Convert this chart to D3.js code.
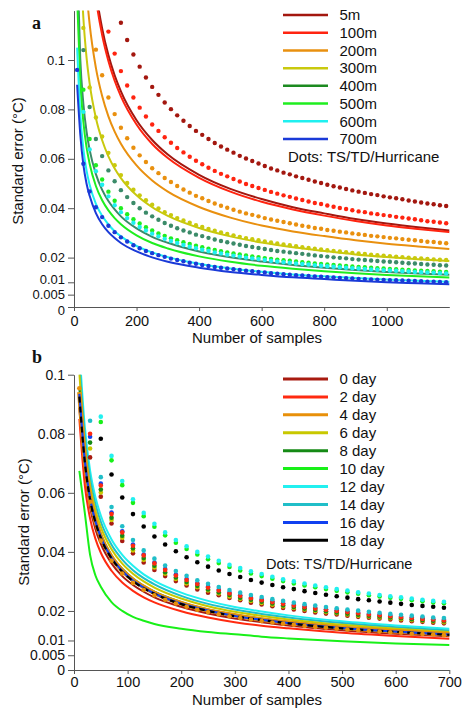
<!DOCTYPE html>
<html>
<head>
<meta charset="utf-8">
<script src="https://cdn.jsdelivr.net/npm/d3@7"></script>
<style>
  html, body { margin: 0; padding: 0; background: #fff; }
  svg { display: block; font-family: "Liberation Sans", Arial, Helvetica, sans-serif; }
</style>
</head>
<body>
<div id="chart"></div>
<script>
// ---------------- DATA: panel a ----------------
const depthLabels = ["5m", "100m", "200m", "300m", "400m", "500m", "600m", "700m"];
const yTicks = [0, 0.005, 0.01, 0.02, 0.04, 0.06, 0.08, 0.1];
const xTicksA = [0, 200, 400, 600, 800, 1000];
const xTicksB = [0, 100, 200, 300, 400, 500, 600, 700];

const nLineA = [10,20,30,40,50,70,90,110,130,150,200,250,300,400,500,600,700,800,900,1000,1100,1200];
const line5m   = [null,null,null,null,0.1513,0.1279,0.1128,0.1020,0.0938,0.0873,0.0756,0.0676,0.0617,0.0535,0.0478,0.0437,0.0404,0.0379,0.0356,0.0338,0.0323,0.0310];
const line100m = [null,null,null,null,0.1478,0.1249,0.1101,0.0996,0.0916,0.0853,0.0739,0.0660,0.0603,0.0523,0.0467,0.0426,0.0395,0.0370,0.0348,0.0330,0.0316,0.0303];
const line200m = [null,null,0.148,0.1281,0.1145,0.0968,0.0854,0.0772,0.0710,0.0661,0.0573,0.0512,0.0467,0.0405,0.0362,0.0330,0.0306,0.0287,0.0270,0.0256,0.0245,0.0235];
const line300m = [null,0.1431,0.1169,0.1012,0.0905,0.0765,0.0675,0.0610,0.0561,0.0522,0.0452,0.0404,0.0369,0.0320,0.0286,0.0261,0.0242,0.0227,0.0213,0.0202,0.0193,0.0186];
const line400m = [0.142,0.1006,0.0822,0.0711,0.0636,0.0538,0.0474,0.0429,0.0395,0.0367,0.0318,0.0284,0.0260,0.0225,0.0201,0.0184,0.0170,0.0159,0.0150,0.0142,0.0136,0.0131];
const line500m = [0.125,0.0917,0.0749,0.0648,0.0580,0.0490,0.0432,0.0391,0.0360,0.0335,0.0290,0.0259,0.0237,0.0205,0.0183,0.0167,0.0155,0.0145,0.0137,0.0130,0.0124,0.0119];
const line600m = [0.105,0.0783,0.0639,0.0553,0.0495,0.0418,0.0369,0.0334,0.0307,0.0286,0.0247,0.0221,0.0202,0.0175,0.0156,0.0143,0.0132,0.0124,0.0117,0.0111,0.0106,0.0102];
const line700m = [0.0900,0.0700,0.0575,0.0500,0.0450,0.0380,0.0335,0.0303,0.0279,0.0259,0.0225,0.0201,0.0183,0.0159,0.0142,0.0130,0.0120,0.0113,0.0106,0.0100,0.0096,0.0092];

const nDotsA = [10,30,50,70,90,110,130,150,170,190,210,230,250,270,290,310,330,350,370,390,410,430,450,470,490,510,530,550,570,590,610,630,650,670,690,710,730,750,770,790,810,830,850,870,890,910,930,950,970,990,1010,1030,1050,1070,1090,1110,1130,1150,1170,1190];
const dots5m = [null,null,null,null,null,null,null,
  0.1151,0.1081,0.1022,0.0973,0.0929,0.0891,0.0859,0.0828,0.0801,0.0776,
  0.0754,0.0733,0.0713,0.0697,0.0680,0.0664,0.0650,0.0637,0.0625,0.0612,
  0.0601,0.0591,0.0581,0.0571,0.0561,0.0553,0.0544,0.0537,0.0529,0.0522,
  0.0515,0.0508,0.0502,0.0495,0.0489,0.0484,0.0478,0.0472,0.0467,0.0462,
  0.0457,0.0453,0.0448,0.0444,0.0440,0.0436,0.0431,0.0427,0.0423,0.0419,
  0.0416,0.0412,0.0409];
const dots100m = [null,null,null,null,null,
  0.1115,0.1026,0.0955,0.0897,0.0848,0.0807,0.0771,0.0739,0.0713,0.0687,
  0.0665,0.0644,0.0626,0.0608,0.0592,0.0578,0.0564,0.0551,0.0539,0.0529,
  0.0518,0.0508,0.0498,0.0490,0.0482,0.0474,0.0466,0.0459,0.0452,0.0446,
  0.0439,0.0433,0.0427,0.0421,0.0417,0.0411,0.0406,0.0401,0.0397,0.0392,
  0.0387,0.0384,0.0379,0.0376,0.0372,0.0369,0.0365,0.0362,0.0358,0.0355,
  0.0351,0.0347,0.0345,0.0342,0.0339];
const dots200m = [null,null,null,
  0.1042,0.0938,0.0848,0.0781,0.0726,0.0683,0.0645,0.0614,0.0587,0.0562,
  0.0542,0.0522,0.0506,0.0490,0.0476,0.0463,0.0450,0.0440,0.0429,0.0419,
  0.0410,0.0402,0.0394,0.0386,0.0379,0.0373,0.0367,0.0360,0.0354,0.0349,
  0.0344,0.0339,0.0334,0.0329,0.0325,0.0320,0.0317,0.0312,0.0309,0.0305,
  0.0302,0.0298,0.0295,0.0292,0.0288,0.0286,0.0283,0.0280,0.0278,0.0275,
  0.0272,0.0270,0.0267,0.0264,0.0263,0.0260,0.0258];
const dots300m = [null,
  0.1130,0.0889,0.0767,0.0690,0.0624,0.0574,0.0534,0.0502,0.0475,0.0452,
  0.0432,0.0414,0.0399,0.0384,0.0372,0.0360,0.0350,0.0341,0.0331,0.0324,
  0.0316,0.0309,0.0302,0.0296,0.0290,0.0284,0.0279,0.0274,0.0270,0.0265,
  0.0261,0.0257,0.0253,0.0250,0.0246,0.0242,0.0239,0.0236,0.0233,0.0230,
  0.0227,0.0225,0.0222,0.0219,0.0217,0.0215,0.0212,0.0210,0.0208,0.0206,
  0.0204,0.0202,0.0200,0.0198,0.0197,0.0195,0.0193,0.0191,0.0190];
const dots400m = [null,
  0.1040,0.0810,0.0680,0.0611,0.0553,0.0509,0.0473,0.0445,0.0421,0.0400,
  0.0382,0.0367,0.0353,0.0340,0.0329,0.0319,0.0310,0.0302,0.0293,0.0287,
  0.0280,0.0273,0.0267,0.0262,0.0257,0.0252,0.0247,0.0243,0.0239,0.0235,
  0.0231,0.0227,0.0224,0.0221,0.0218,0.0215,0.0212,0.0209,0.0206,0.0204,
  0.0201,0.0199,0.0197,0.0194,0.0192,0.0190,0.0188,0.0186,0.0184,0.0183,
  0.0181,0.0179,0.0177,0.0176,0.0174,0.0172,0.0171,0.0169,0.0168];
const dots500m = [null,
  0.0880,0.0680,0.0574,0.0516,0.0467,0.0430,0.0400,0.0376,0.0355,0.0338,
  0.0323,0.0310,0.0298,0.0288,0.0278,0.0270,0.0262,0.0255,0.0248,0.0242,
  0.0236,0.0231,0.0226,0.0221,0.0217,0.0213,0.0209,0.0205,0.0202,0.0198,
  0.0195,0.0192,0.0189,0.0187,0.0184,0.0181,0.0179,0.0176,0.0174,0.0172,
  0.0170,0.0168,0.0166,0.0164,0.0162,0.0161,0.0159,0.0157,0.0156,0.0154,
  0.0153,0.0151,0.0150,0.0148,0.0147,0.0146,0.0145,0.0143,0.0142];
const dots600m = [null,
  0.0790,0.0638,0.0550,0.0495,0.0448,0.0412,0.0384,0.0360,0.0341,0.0324,
  0.0310,0.0297,0.0286,0.0276,0.0267,0.0259,0.0251,0.0244,0.0238,0.0232,
  0.0227,0.0221,0.0217,0.0212,0.0208,0.0204,0.0200,0.0197,0.0194,0.0190,
  0.0187,0.0184,0.0181,0.0179,0.0176,0.0174,0.0172,0.0169,0.0167,0.0165,
  0.0163,0.0161,0.0159,0.0157,0.0156,0.0154,0.0152,0.0151,0.0149,0.0148,
  0.0147,0.0145,0.0144,0.0142,0.0141,0.0140,0.0139,0.0137,0.0136];
const dots700m = [
  0.0960,0.0580,0.0468,0.0404,0.0364,0.0329,0.0303,0.0282,0.0265,0.0250,
  0.0238,0.0227,0.0218,0.0210,0.0203,0.0196,0.0190,0.0185,0.0179,0.0175,
  0.0170,0.0166,0.0162,0.0159,0.0156,0.0153,0.0150,0.0147,0.0145,0.0142,
  0.0140,0.0137,0.0135,0.0133,0.0131,0.0129,0.0128,0.0126,0.0124,0.0123,
  0.0121,0.0120,0.0118,0.0117,0.0116,0.0114,0.0113,0.0112,0.0111,0.0110,
  0.0109,0.0108,0.0107,0.0106,0.0105,0.0104,0.0102,0.0102,0.0101,0.0100];

// ---------------- DATA: panel b ----------------
const dayLabels = ["0 day","2 day","4 day","6 day","8 day","10 day","12 day","14 day","16 day","18 day"];
const nLineB = [10,20,30,40,50,70,90,110,130,150,200,250,300,350,400,500,600,700];
const lineDay0  = [0.0888,0.0675,0.0551,0.0477,0.0427,0.0361,0.0318,0.0288,0.0265,0.0246,0.0214,0.0191,0.0174,0.0162,0.0151,0.0135,0.0123,0.0114];
const lineDay2  = [0.0850,0.0628,0.0513,0.0444,0.0397,0.0336,0.0296,0.0268,0.0246,0.0229,0.0199,0.0178,0.0162,0.0150,0.0141,0.0126,0.0115,0.0106];
const lineDay4  = [0.0941,0.0716,0.0584,0.0506,0.0452,0.0382,0.0337,0.0305,0.0281,0.0261,0.0226,0.0202,0.0185,0.0171,0.0160,0.0143,0.0131,0.0121];
const lineDay6  = [0.1006,0.0765,0.0624,0.0541,0.0484,0.0409,0.0360,0.0326,0.0300,0.0279,0.0242,0.0216,0.0197,0.0183,0.0171,0.0153,0.0140,0.0129];
const lineDay8  = [0.0956,0.0727,0.0593,0.0514,0.0460,0.0388,0.0343,0.0310,0.0285,0.0265,0.0230,0.0205,0.0188,0.0174,0.0163,0.0145,0.0133,0.0123];
const lineDay10 = [0.0674,0.0535,0.0390,0.0320,0.0282,0.0230,0.0200,0.0180,0.0167,0.0156,0.0140,0.0129,0.0121,0.0113,0.0107,0.0097,0.0090,0.0085];
const lineDay12 = [0.1088,0.0827,0.0676,0.0585,0.0523,0.0442,0.0390,0.0353,0.0324,0.0302,0.0262,0.0234,0.0213,0.0198,0.0185,0.0165,0.0151,0.0140];
const lineDay14 = [0.1044,0.0794,0.0648,0.0561,0.0502,0.0424,0.0374,0.0338,0.0311,0.0290,0.0251,0.0224,0.0205,0.0190,0.0178,0.0159,0.0145,0.0134];
const lineDay16 = [0.0935,0.0711,0.0581,0.0503,0.0450,0.0380,0.0335,0.0303,0.0279,0.0259,0.0225,0.0201,0.0183,0.0170,0.0159,0.0142,0.0130,0.0120];
const lineDay18 = [0.0926,0.0707,0.0577,0.0500,0.0447,0.0378,0.0333,0.0301,0.0277,0.0258,0.0223,0.0200,0.0182,0.0169,0.0158,0.0141,0.0129,0.0119];

const nDotsB = [10,30,50,70,90,110,130,150,170,190,210,230,250,270,290,310,330,350,370,390,410,430,450,470,490,510,530,550,570,590,610,630,650,670,690];
const dotsDay0 = [null,0.0720,0.0587,0.0496,0.0437,0.0395,0.0364,0.0339,0.0318,0.0301,0.0286,0.0273,0.0262,0.0253,0.0244,0.0236,0.0228,0.0222,0.0216,0.0210,0.0205,0.0200,0.0195,0.0191,0.0188,0.0184,0.0180,0.0177,0.0174,0.0171,0.0168,0.0165,0.0163,0.0160,0.0158];
const dotsDay2 = [null,0.0800,0.0625,0.0528,0.0466,0.0421,0.0388,0.0361,0.0339,0.0320,0.0305,0.0291,0.0279,0.0269,0.0259,0.0251,0.0243,0.0236,0.0230,0.0224,0.0218,0.0213,0.0208,0.0204,0.0200,0.0196,0.0192,0.0188,0.0185,0.0182,0.0179,0.0176,0.0173,0.0171,0.0168];
const dotsDay4 = [0.0954,0.0570,0.0438,0.0370,0.0327,0.0295,0.0272,0.0253,0.0238,0.0225,0.0214,0.0204,0.0196,0.0189,0.0182,0.0176,0.0171,0.0166,0.0161,0.0157,0.0153,0.0149,0.0146,0.0143,0.0140,0.0137,0.0135,0.0132,0.0130,0.0128,0.0126,0.0123,0.0122,0.0120,0.0118];
const dotsDay6 = [null,0.0750,0.0601,0.0508,0.0448,0.0405,0.0373,0.0347,0.0326,0.0308,0.0293,0.0280,0.0269,0.0259,0.0249,0.0241,0.0234,0.0227,0.0221,0.0215,0.0210,0.0205,0.0200,0.0196,0.0192,0.0188,0.0184,0.0181,0.0178,0.0175,0.0172,0.0169,0.0167,0.0164,0.0162];
const dotsDay8 = [null,0.0770,0.0611,0.0516,0.0455,0.0412,0.0379,0.0353,0.0331,0.0313,0.0298,0.0285,0.0273,0.0263,0.0254,0.0245,0.0238,0.0231,0.0225,0.0219,0.0213,0.0208,0.0203,0.0199,0.0195,0.0191,0.0187,0.0184,0.0181,0.0178,0.0175,0.0172,0.0169,0.0167,0.0165];
const dotsDay10 = [null,null,0.0840,0.0710,0.0626,0.0566,0.0521,0.0485,0.0456,0.0431,0.0410,0.0391,0.0375,0.0362,0.0349,0.0337,0.0327,0.0318,0.0309,0.0301,0.0293,0.0286,0.0280,0.0274,0.0268,0.0263,0.0258,0.0253,0.0249,0.0245,0.0241,0.0236,0.0233,0.0229,0.0226];
const dotsDay12 = [null,null,0.0858,0.0725,0.0640,0.0578,0.0532,0.0495,0.0466,0.0440,0.0419,0.0400,0.0384,0.0370,0.0356,0.0345,0.0334,0.0325,0.0316,0.0307,0.0300,0.0293,0.0286,0.0280,0.0274,0.0269,0.0263,0.0259,0.0254,0.0250,0.0246,0.0242,0.0238,0.0234,0.0231];
const dotsDay14 = [null,0.0844,0.0653,0.0552,0.0487,0.0440,0.0405,0.0377,0.0354,0.0335,0.0319,0.0304,0.0292,0.0281,0.0271,0.0262,0.0254,0.0247,0.0240,0.0234,0.0228,0.0223,0.0218,0.0213,0.0209,0.0205,0.0201,0.0197,0.0194,0.0190,0.0187,0.0184,0.0181,0.0178,0.0176];
const dotsDay16 = [null,0.0790,0.0631,0.0533,0.0470,0.0425,0.0391,0.0364,0.0342,0.0323,0.0308,0.0294,0.0282,0.0272,0.0262,0.0253,0.0245,0.0239,0.0232,0.0226,0.0220,0.0215,0.0210,0.0206,0.0202,0.0198,0.0194,0.0190,0.0187,0.0184,0.0181,0.0178,0.0175,0.0172,0.0170];
const dotsDay18 = [null,null,0.0783,0.0662,0.0584,0.0528,0.0486,0.0452,0.0425,0.0402,0.0382,0.0365,0.0350,0.0337,0.0325,0.0315,0.0305,0.0296,0.0288,0.0280,0.0274,0.0267,0.0261,0.0255,0.0250,0.0245,0.0240,0.0236,0.0232,0.0228,0.0224,0.0220,0.0217,0.0214,0.0211];

// ---------------- STYLE ----------------
const colorsA = ["#a3170f","#ff2410","#e9900f","#c9c90e","#3b8b69","#1fee1f","#1ff0f0","#1a3ad8"];
const legendColorsA = ["#a3170f","#ff2410","#e9900f","#c9c90e","#1c8a20","#1fee1f","#1ff0f0","#1a3ad8"];
const colorsB = ["#a81b10","#ff2a10","#e8900a","#c8c800","#158a15","#18f018","#22f0f0","#20bec8","#1040f0","#000000"];

const W = 462, H = 709;
const svg = d3.select("#chart").append("svg").attr("width", W).attr("height", H);
const FONT = "Liberation Sans, Arial, Helvetica, sans-serif";

function toPts(ns, vs) { return ns.map((n, i) => ({ n: n, v: vs[i] })).filter(d => d.v != null); }

function panel(cfg) {
  const x = d3.scaleLinear().domain(cfg.xDomain).range([74, 449.3]);
  const y = d3.scaleLinear().domain(cfg.yDomain).range([cfg.bottom, cfg.top]);
  const g = svg.append("g");
  const clipId = "clip" + cfg.id;
  svg.append("clipPath").attr("id", clipId).append("rect")
    .attr("x", 74).attr("y", cfg.top).attr("width", 449.3 - 74 + 4).attr("height", cfg.bottom - cfg.top);

  // axes
  const ya = d3.axisLeft(y).tickValues(yTicks).tickSize(6).tickSizeOuter(0).tickPadding(3)
    .tickFormat(d => d === 0 ? "0" : String(d));
  const gy = g.append("g").attr("transform", "translate(74,0)").call(ya);
  const xa = d3.axisBottom(x).tickValues(cfg.xTicks).tickSize(4).tickSizeOuter(0).tickPadding(cfg.xPad)
    .tickFormat(d3.format("d"));
  const gx = g.append("g").attr("transform", `translate(0,${cfg.bottom})`).call(xa);
  [gx, gy].forEach(a => {
    a.selectAll("path, line").attr("stroke", "#555").attr("stroke-width", 1);
    a.selectAll("text").attr("font-family", FONT).attr("fill", "#111");
  });
  gx.selectAll("text").attr("font-size", 14.5);
  gy.selectAll("text").attr("font-size", cfg.yTickSize)
    .attr("y", d => (cfg.yNudge && cfg.yNudge[String(d)]) || 0);

  const plot = g.append("g").attr("clip-path", `url(#${clipId})`);
  const line = d3.line().x(d => x(d.n)).y(d => y(d.v)).curve(d3.curveMonotoneX);

  cfg.lines.forEach(L => {
    plot.append("path").datum(toPts(L.ns, L.vs)).attr("d", line)
      .attr("fill", "none").attr("stroke", L.color).attr("stroke-width", L.width || 2)
      .attr("stroke-dasharray", L.dash || null).attr("stroke-linejoin", "round");
  });
  cfg.dots.forEach(D => {
    plot.append("g").selectAll("circle").data(toPts(D.ns, D.vs)).join("circle")
      .attr("cx", d => x(d.n)).attr("cy", d => y(d.v)).attr("r", D.r || 2.2).attr("fill", D.color);
  });

  // labels
  svg.append("text").attr("x", 32).attr("y", cfg.top + cfg.labelDy).text(cfg.id)
    .attr("font-family", "Liberation Serif, Times New Roman, serif").attr("font-weight", "bold").attr("font-size", 18).attr("fill", "#111");
  svg.append("text").attr("transform", `translate(${cfg.yTitleX},${cfg.yTitleY}) rotate(-90)`)
    .attr("text-anchor", "middle").attr("font-size", 15).attr("font-family", FONT).attr("fill", "#111")
    .text("Standard error (°C)");
  svg.append("text").attr("x", 257).attr("y", cfg.xTitleY).attr("text-anchor", "middle")
    .attr("font-size", 15).attr("font-family", FONT).attr("fill", "#111").text("Number of samples");

  // legend
  const ly = d3.scaleLinear().domain([0, cfg.legend.labels.length - 1]).range(cfg.legend.yRange);
  const lg = svg.append("g");
  cfg.legend.labels.forEach((lab, i) => {
    lg.append("line").attr("x1", 283).attr("x2", 328).attr("y1", ly(i)).attr("y2", ly(i))
      .attr("stroke", cfg.legend.colors[i]).attr("stroke-width", cfg.legend.sw);
    lg.append("text").attr("x", 339.5).attr("y", ly(i)).attr("dy", "0.35em").text(lab)
      .attr("font-size", 15).attr("font-family", FONT).attr("fill", "#111");
  });
  lg.append("text").attr("x", cfg.legend.noteX).attr("y", cfg.legend.noteY).text("Dots: TS/TD/Hurricane")
    .attr("font-size", cfg.legend.noteSize).attr("font-family", FONT).attr("fill", "#111");
}

// ---- panel a ----
const linesA = [line5m, line100m, line200m, line300m, line400m, line500m, line600m, line700m];
const dotsA = [dots5m, dots100m, dots200m, dots300m, dots400m, dots500m, dots600m, dots700m];
panel({
  id: "a", xDomain: [0, 1200], yDomain: [0, 0.12], top: 10.6, bottom: 307, xTicks: xTicksA, xPad: 5,
  yTickSize: 13, yNudge: { "0.01": -3, "0": 3 },
  labelDy: 18, yTitleX: 23, yTitleY: 161, xTitleY: 343,
  lines: linesA.map((vs, i) => ({ ns: nLineA, vs: vs, color: colorsA[i], width: 2 })),
  dots: dotsA.map((vs, i) => ({ ns: nDotsA, vs: vs, color: colorsA[i], r: 2.2 })),
  legend: { labels: depthLabels, colors: legendColorsA, yRange: [15, 139], sw: 2.5,
            noteX: 288, noteY: 161.5, noteSize: 15 }
});

// ---- panel b ----
const lineOrderB = [
  { vs: lineDay12, c: 6 }, { vs: lineDay14, c: 7 }, { vs: lineDay6, c: 3 }, { vs: lineDay8, c: 4 },
  { vs: lineDay0, c: 0 }, { vs: lineDay2, c: 1 }, { vs: lineDay10, c: 5 },
  { vs: lineDay4, c: 2, w: 4.5 }, { vs: lineDay16, c: 8, w: 2.2 }, { vs: lineDay18, c: 9, w: 2.2, dash: "6,4" }
];
const dotOrderB = [
  { vs: dotsDay0, c: 0 }, { vs: dotsDay6, c: 3 }, { vs: dotsDay8, c: 4 }, { vs: dotsDay16, c: 8 },
  { vs: dotsDay2, c: 1 }, { vs: dotsDay14, c: 7 },
  { vs: dotsDay18, c: 9 }, { vs: dotsDay10, c: 5 }, { vs: dotsDay12, c: 6 }, { vs: dotsDay4, c: 2 }
];
panel({
  id: "b", xDomain: [0, 700], yDomain: [0, 0.1], top: 374.7, bottom: 670, xTicks: xTicksB, xPad: 3,
  yTickSize: 14,
  labelDy: -12, yTitleX: 29, yTitleY: 522, xTitleY: 705,
  lines: lineOrderB.map(o => ({ ns: nLineB, vs: o.vs, color: colorsB[o.c], width: o.w || 2, dash: o.dash })),
  dots: dotOrderB.map(o => ({ ns: nDotsB, vs: o.vs, color: colorsB[o.c], r: 2.3 })),
  legend: { labels: dayLabels, colors: colorsB, yRange: [379, 540.3], sw: 3,
            noteX: 266, noteY: 569, noteSize: 14.5 }
});
</script>
</body>
</html>
